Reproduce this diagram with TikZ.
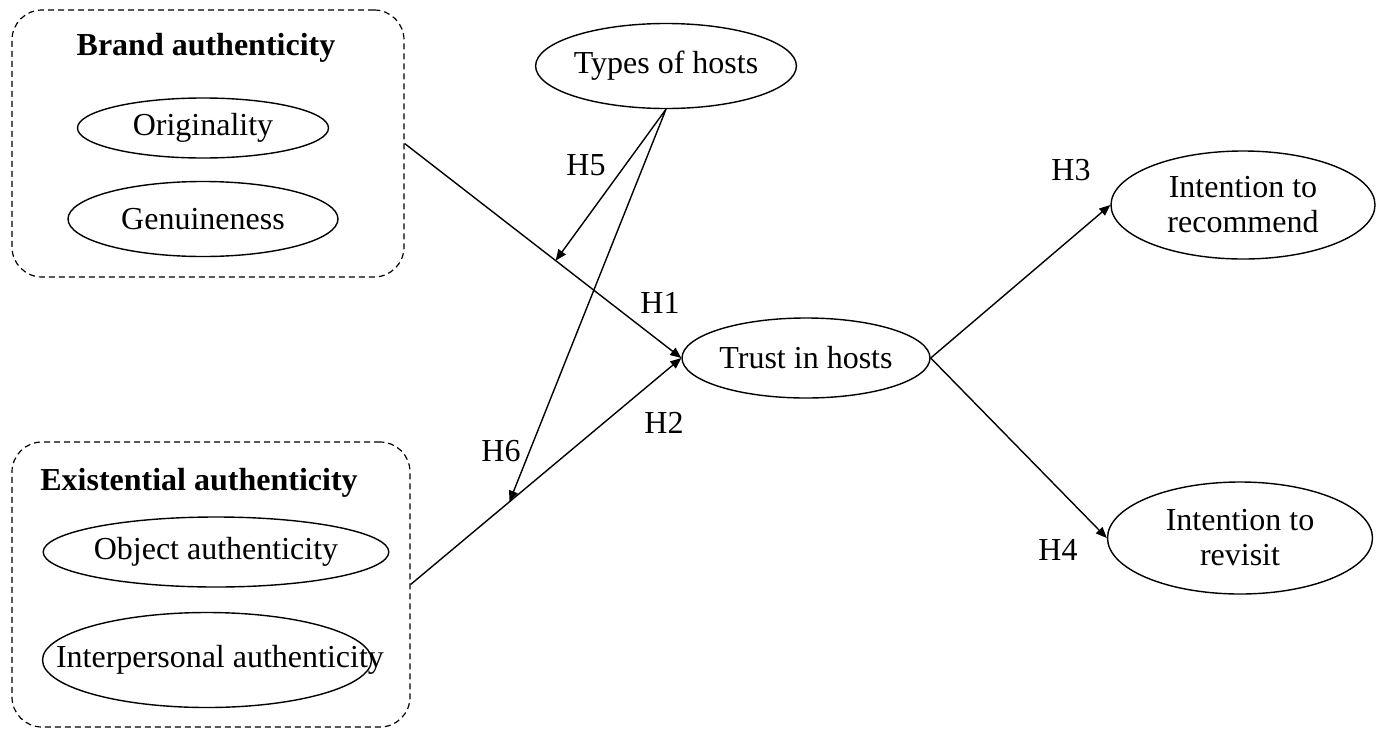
\documentclass[tikz,border=0pt]{standalone}
\usepackage{fontspec}
\setmainfont{Liberation Serif}
\usetikzlibrary{shapes.geometric,arrows.meta,calc}
\begin{document}
\begin{tikzpicture}[x=0.5pt,y=-0.5pt,
  every node/.style={font=\fontsize{16}{17.5}\selectfont},
  ell/.style={draw,ellipse,inner sep=0pt,line width=0.7pt},
  grp/.style={draw,dashed,dash pattern=on 3pt off 2pt,rounded corners=15pt,inner sep=0pt,line width=0.6pt},
  arr/.style={line width=0.7pt,-{Triangle[length=5.5pt,width=4.5pt]}},
  lbl/.style={inner sep=0pt}]
\useasboundingbox (0,0) rectangle (1386,734);
% groups
\node[grp,minimum width=196pt,minimum height=133.5pt] (brand) at (208,143.5) {};
\node[font=\fontsize{16}{17.5}\selectfont\bfseries] (brandt) at (206,48) {Brand authenticity};
\node[ell,minimum width=125.5pt,minimum height=30pt] (orig) at (203,128) {Originality};
\node[ell,minimum width=135pt,minimum height=37.5pt] (gen) at (203,219) {Genuineness};
\node[grp,minimum width=199pt,minimum height=142.5pt] (exist) at (211,584.5) {};
\node[font=\fontsize{16}{17.5}\selectfont\bfseries] (existt) at (199,483) {Existential authenticity};
\node[ell,minimum width=161pt,minimum height=35pt] (obj) at (216,552) {Object authenticity};
\node[ell,minimum width=164.5pt,minimum height=47.5pt] (inter) at (207,660) {};
\node (intert) at (220,660) {Interpersonal authenticity};
% main nodes
\node[ell,minimum width=123.5pt,minimum height=42.5pt] (types) at (666,66) {Types of hosts};
\node[ell,minimum width=124pt,minimum height=40pt] (trust) at (806,358) {Trust in hosts};
\node[ell,minimum width=132pt,minimum height=54pt,align=center] (rec) at (1243,205) {Intention to\\recommend};
\node[ell,minimum width=132.5pt,minimum height=56pt,align=center] (rev) at (1240,538) {Intention to\\revisit};
% mediator targets
\coordinate (m1) at ($(brand.east)!0.546!(trust.west)$);
\coordinate (m2) at ($(exist.east)!0.365!(trust.west)$);
% connectors
\draw[arr] (brand.east) -- (trust.west);
\draw[arr] (exist.east) -- (trust.west);
\draw[arr] (types.south) -- (m1);
\draw[arr] (types.south) -- (m2);
\draw[arr] (trust.east) -- (rec.west);
\draw[arr] (trust.east) -- (rev.west);
% labels
\node[lbl] (h5) at (586,165) {H5};
\node[lbl] (h1) at (660,303) {H1};
\node[lbl] (h2) at (664,423) {H2};
\node[lbl] (h6) at (501,451) {H6};
\node[lbl] (h3) at (1071,170) {H3};
\node[lbl] (h4) at (1058,550) {H4};
\end{tikzpicture}
\end{document}
